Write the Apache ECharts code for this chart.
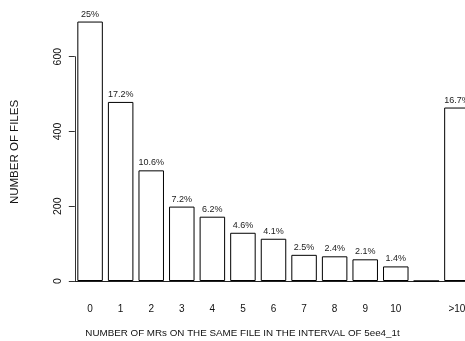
<!DOCTYPE html>
<html>
<head>
<meta charset="utf-8">
<script src="https://cdn.jsdelivr.net/npm/echarts@6/dist/echarts.min.js"></script>
<style>
  html, body { margin: 0; padding: 0; background: #fff; overflow: hidden; }
  /* the last bar runs past the right edge of the window, so the canvas is a little wider */
  #chart { width: 474px; height: 341px; }
</style>
</head>
<body>
<div id="chart"></div>
<script>
// Number of MRs touching the same file within the interval, and file counts per bucket
const categories = ['0', '1', '2', '3', '4', '5', '6', '7', '8', '9', '10', '', '>10'];
const fileCounts = [694, 479, 296, 199, 172, 129, 113, 70, 66, 58, 39, 0, 464];
const shareLabels = ['25%', '17.2%', '10.6%', '7.2%', '6.2%', '4.6%', '4.1%', '2.5%', '2.4%', '2.1%', '1.4%', '', '16.7%'];
const yTicks = [0, 200, 400, 600];

const FONT = 'Liberation Sans, Arial, Helvetica, sans-serif';
const chart = echarts.init(document.getElementById('chart'), null, { renderer: 'canvas' });

chart.setOption({
  animation: false,
  backgroundColor: '#ffffff',
  textStyle: { fontFamily: FONT },
  grid: { left: 74.8, top: 56.7, width: 397.4, height: 224.3, containLabel: false },
  xAxis: {
    type: 'category',
    data: categories,
    axisLine: { show: true, lineStyle: { color: '#222', width: 1 } },
    axisTick: { show: false },
    axisLabel: { color: '#111', fontSize: 10, margin: 23, interval: 0, fontFamily: FONT },
    splitLine: { show: false }
  },
  yAxis: {
    type: 'value',
    min: yTicks[0],
    max: yTicks[yTicks.length - 1],
    interval: yTicks[1] - yTicks[0],
    axisLine: { show: true, lineStyle: { color: '#333', width: 1 } },
    axisTick: { show: true, length: 6, lineStyle: { color: '#333' } },
    axisLabel: { color: '#111', fontSize: 10.5, rotate: 90, margin: 11, fontFamily: FONT },
    splitLine: { show: false }
  },
  graphic: [
    {
      type: 'text',
      x: 15, y: 152,
      rotation: Math.PI / 2,
      style: {
        text: 'NUMBER OF FILES',
        fill: '#111',
        font: '11.5px ' + FONT,
        align: 'center',
        verticalAlign: 'middle'
      }
    },
    {
      type: 'text',
      x: 242.5, y: 333,
      style: {
        text: 'NUMBER OF MRs ON THE SAME FILE IN THE INTERVAL OF 5ee4_1t',
        fill: '#111',
        font: '9.8px ' + FONT,
        align: 'center',
        verticalAlign: 'middle'
      }
    }
  ],
  series: [{
    type: 'bar',
    data: fileCounts,
    clip: false,
    barWidth: 25.5,
    itemStyle: { color: '#ffffff', borderColor: '#000', borderWidth: 1 },
    label: {
      show: true,
      position: 'top',
      distance: 3,
      fontSize: 9,
      color: '#222',
      fontFamily: FONT,
      formatter: p => shareLabels[p.dataIndex]
    },
    emphasis: { disabled: true }
  }]
});
</script>
</body>
</html>
